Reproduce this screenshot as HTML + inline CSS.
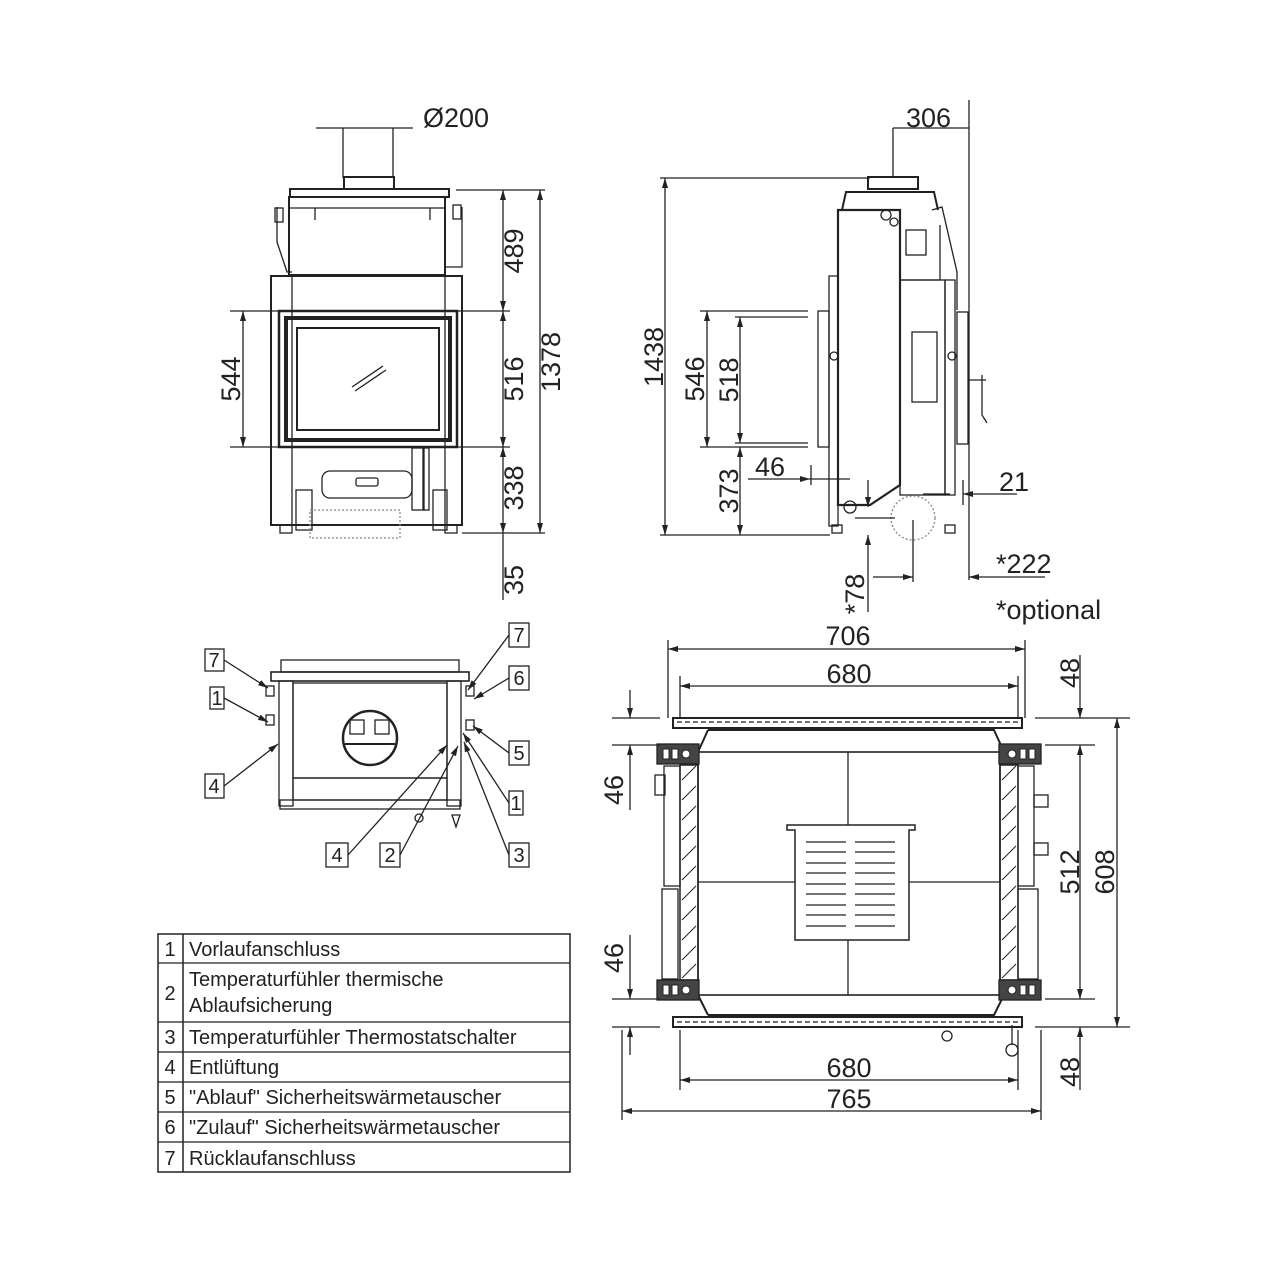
<!DOCTYPE html>
<html><head><meta charset="utf-8"><style>
html,body{margin:0;padding:0;background:#fff}
svg{display:block}
text{font-family:"Liberation Sans","DejaVu Sans",sans-serif;fill:#222}
.d{font-size:27px}
.t{font-size:20px}
</style></head><body>
<svg width="1280" height="1280" viewBox="0 0 1280 1280" xmlns="http://www.w3.org/2000/svg">
<defs>
<marker id="a" viewBox="0 0 10 6" refX="10" refY="3" markerWidth="10" markerHeight="6" orient="auto-start-reverse" markerUnits="userSpaceOnUse"><path d="M0,0L10,3L0,6z" fill="#222"/></marker>
</defs>
<g stroke="#222" stroke-width="1.3" fill="none">
<!-- ========== FRONT VIEW ========== -->
<line x1="316" y1="128" x2="413" y2="128"/>
<line x1="343" y1="128" x2="343" y2="178"/><line x1="393" y1="128" x2="393" y2="178"/>
<rect x="344" y="177" width="50" height="12" stroke-width="2"/>
<rect x="290" y="189" width="159" height="8" stroke-width="2"/>
<rect x="289" y="197" width="156" height="78" stroke-width="2"/>
<line x1="289" y1="208" x2="445" y2="208"/>
<path d="M315,208v12M430,208v12"/>
<path d="M277,207v35l10,30h5M462,207v60h-17" />
<rect x="275" y="208" width="8" height="14"/><rect x="453" y="205" width="8" height="14"/>
<rect x="271" y="276" width="191" height="249" stroke-width="2"/>
<line x1="292" y1="276" x2="292" y2="525"/><line x1="445" y1="276" x2="445" y2="525"/>
<rect x="279" y="311" width="178" height="136" stroke-width="2.5"/>
<rect x="286" y="318" width="164" height="122" stroke-width="4"/>
<rect x="297" y="328" width="142" height="102" stroke-width="2"/>
<line x1="352" y1="387" x2="383" y2="366"/><line x1="355" y1="391" x2="386" y2="370"/>
<rect x="322" y="471" width="90" height="27" rx="8"/>
<rect x="356" y="478" width="22" height="8" rx="2"/>
<rect x="412" y="448" width="12" height="62"/><rect x="423" y="448" width="6" height="62"/>
<rect x="296" y="490" width="16" height="40"/><rect x="433" y="490" width="14" height="40"/>
<rect x="310" y="510" width="90" height="28" stroke-dasharray="2,2" stroke="#888"/>
<rect x="280" y="525" width="12" height="8"/><rect x="445" y="525" width="12" height="8"/>
<!-- front dims -->
<line x1="456" y1="190" x2="545" y2="190"/><line x1="458" y1="311" x2="510" y2="311"/>
<line x1="458" y1="447" x2="510" y2="447"/><line x1="462" y1="533" x2="545" y2="533"/>
<line x1="503" y1="190" x2="503" y2="311" marker-start="url(#a)" marker-end="url(#a)"/>
<line x1="503" y1="311" x2="503" y2="447" marker-start="url(#a)" marker-end="url(#a)"/>
<line x1="503" y1="447" x2="503" y2="533" marker-start="url(#a)" marker-end="url(#a)"/>
<line x1="503" y1="533" x2="503" y2="600"/>
<line x1="540" y1="190" x2="540" y2="533" marker-start="url(#a)" marker-end="url(#a)"/>
<line x1="230" y1="311" x2="278" y2="311"/><line x1="230" y1="447" x2="278" y2="447"/>
<line x1="243" y1="311" x2="243" y2="447" marker-start="url(#a)" marker-end="url(#a)"/>

<!-- ========== SIDE VIEW ========== -->
<line x1="893" y1="128" x2="969" y2="128"/>
<line x1="893" y1="128" x2="893" y2="178"/><line x1="969" y1="100" x2="969" y2="580"/>
<rect x="868" y="177" width="50" height="12" stroke-width="2"/>
<path d="M842,210l4,-18h88l4,18" stroke-width="2"/>
<path d="M838,210h62v275l-30,20h-32z" stroke-width="2.2"/>
<path d="M900,210v70h40v-55" />
<path d="M932,210l10,-3l15,65v38" />
<path d="M829,276h9v250h-9z"/><path d="M945,280h10v215h-10z"/>
<rect x="900" y="280" width="45" height="215"/>
<rect x="912" y="332" width="25" height="70"/>
<rect x="906" y="230" width="20" height="25"/>
<rect x="818" y="311" width="11" height="136"/>
<rect x="957" y="312" width="11" height="132"/>
<path d="M968,380h18M982,375v40l5,8"/>
<circle cx="886" cy="215" r="5"/><circle cx="894" cy="222" r="4"/>
<circle cx="834" cy="356" r="4"/><circle cx="952" cy="356" r="4"/>
<circle cx="850" cy="507" r="6"/>
<circle cx="913" cy="518" r="22" stroke-dasharray="2,2" stroke="#888"/>
<rect x="832" y="525" width="10" height="8"/><rect x="945" y="525" width="10" height="8"/>
<!-- side dims -->
<line x1="660" y1="178" x2="870" y2="178"/><line x1="660" y1="535" x2="830" y2="535"/>
<line x1="665" y1="178" x2="665" y2="535" marker-start="url(#a)" marker-end="url(#a)"/>
<line x1="700" y1="311" x2="808" y2="311"/><line x1="700" y1="447" x2="808" y2="447"/>
<line x1="735" y1="317" x2="808" y2="317"/><line x1="735" y1="443" x2="808" y2="443"/>
<line x1="707" y1="311" x2="707" y2="447" marker-start="url(#a)" marker-end="url(#a)"/>
<line x1="740" y1="317" x2="740" y2="443" marker-start="url(#a)" marker-end="url(#a)"/>
<line x1="740" y1="447" x2="740" y2="535" marker-start="url(#a)" marker-end="url(#a)"/>
<line x1="748" y1="479" x2="810" y2="479" marker-end="url(#a)"/>
<line x1="810" y1="479" x2="850" y2="479"/>
<line x1="811" y1="465" x2="811" y2="485"/>
<line x1="923" y1="494" x2="950" y2="494"/>
<line x1="1000" y1="494" x2="963" y2="494" marker-end="url(#a)"/>
<line x1="963" y1="480" x2="963" y2="505"/>
<line x1="1000" y1="494" x2="1017" y2="494"/>
<line x1="868" y1="480" x2="868" y2="507" marker-end="url(#a)"/>
<line x1="868" y1="612" x2="868" y2="535" marker-end="url(#a)"/>
<line x1="855" y1="518" x2="895" y2="518"/>
<line x1="873" y1="577" x2="913" y2="577" marker-end="url(#a)"/>
<line x1="913" y1="520" x2="913" y2="582"/>
<line x1="1045" y1="577" x2="969" y2="577" marker-end="url(#a)"/>

<!-- ========== REAR VIEW ========== -->
<rect x="281" y="660" width="178" height="12"/>
<rect x="271" y="672" width="198" height="9" stroke-width="1.6"/>
<rect x="279" y="681" width="14" height="125"/><rect x="447" y="681" width="14" height="125"/>
<rect x="293" y="683" width="154" height="95"/>
<rect x="293" y="778" width="154" height="22"/>
<rect x="280" y="800" width="180" height="9"/>
<circle cx="370" cy="738" r="27" stroke-width="2.5"/>
<rect x="350" y="720" width="14" height="14"/><rect x="375" y="720" width="14" height="14"/>
<line x1="345" y1="744" x2="395" y2="744" stroke-width="2"/>
<rect x="266" y="686" width="8" height="10"/><rect x="266" y="715" width="8" height="10"/>
<rect x="466" y="686" width="8" height="10"/><rect x="466" y="720" width="8" height="10"/>
<circle cx="419" cy="818" r="4"/><path d="M452,815l4,12l4,-12z"/>
<!-- callouts -->
<rect x="205" y="649" width="19" height="22"/><text x="214" y="667" class="t" text-anchor="middle" stroke="none">7</text>
<rect x="210" y="687" width="14" height="22"/><text x="217" y="705" class="t" text-anchor="middle" stroke="none">1</text>
<rect x="205" y="774" width="19" height="24"/><text x="214" y="793" class="t" text-anchor="middle" stroke="none">4</text>
<rect x="509" y="623" width="20" height="24"/><text x="519" y="642" class="t" text-anchor="middle" stroke="none">7</text>
<rect x="509" y="666" width="20" height="24"/><text x="519" y="685" class="t" text-anchor="middle" stroke="none">6</text>
<rect x="509" y="741" width="20" height="24"/><text x="519" y="760" class="t" text-anchor="middle" stroke="none">5</text>
<rect x="509" y="791" width="14" height="24"/><text x="516" y="810" class="t" text-anchor="middle" stroke="none">1</text>
<rect x="509" y="843" width="20" height="24"/><text x="519" y="862" class="t" text-anchor="middle" stroke="none">3</text>
<rect x="326" y="843" width="22" height="24"/><text x="337" y="862" class="t" text-anchor="middle" stroke="none">4</text>
<rect x="380" y="843" width="20" height="24"/><text x="390" y="862" class="t" text-anchor="middle" stroke="none">2</text>
<line x1="224" y1="660" x2="268" y2="688" marker-end="url(#a)"/>
<line x1="224" y1="698" x2="268" y2="722" marker-end="url(#a)"/>
<line x1="224" y1="786" x2="278" y2="744" marker-end="url(#a)"/>
<line x1="509" y1="635" x2="468" y2="690" marker-end="url(#a)"/>
<line x1="509" y1="678" x2="474" y2="699" marker-end="url(#a)"/>
<line x1="509" y1="753" x2="473" y2="726" marker-end="url(#a)"/>
<line x1="509" y1="803" x2="463" y2="733" marker-end="url(#a)"/>
<line x1="509" y1="855" x2="464" y2="742" marker-end="url(#a)"/>
<line x1="348" y1="855" x2="447" y2="745" marker-end="url(#a)"/>
<line x1="400" y1="855" x2="458" y2="746" marker-end="url(#a)"/>

<!-- ========== TOP SECTION ========== -->
<rect x="673" y="718" width="349" height="10" stroke-width="2"/>
<rect x="673" y="1017" width="349" height="10" stroke-width="2"/>
<line x1="677" y1="722" x2="1018" y2="722" stroke-dasharray="5,3"/>
<line x1="677" y1="1022" x2="1018" y2="1022" stroke-dasharray="5,3"/>
<path d="M708,730h286l10,22M708,730l-10,22M708,1015h286l10,-20M708,1015l-10,-20" stroke-width="2"/>
<rect x="698" y="752" width="302" height="243" stroke-width="1.6"/>
<line x1="848" y1="752" x2="848" y2="995"/><line x1="698" y1="882" x2="1000" y2="882"/>
<rect x="680" y="765" width="18" height="215" stroke-width="1.5"/>
<rect x="1000" y="765" width="18" height="215" stroke-width="1.5"/>
<g stroke-width="1">
<path d="M682,780l14,-14M682,800l14,-14M682,820l14,-14M682,840l14,-14M682,860l14,-14M682,880l14,-14M682,900l14,-14M682,920l14,-14M682,940l14,-14M682,960l14,-14M682,978l14,-14"/>
<path d="M1002,780l14,-14M1002,800l14,-14M1002,820l14,-14M1002,840l14,-14M1002,860l14,-14M1002,880l14,-14M1002,900l14,-14M1002,920l14,-14M1002,940l14,-14M1002,960l14,-14M1002,978l14,-14"/>
</g>
<g fill="#444">
<rect x="657" y="744" width="42" height="20"/>
<rect x="999" y="744" width="42" height="20"/>
<rect x="657" y="980" width="42" height="20"/>
<rect x="999" y="980" width="42" height="20"/>
</g>
<g fill="#fff" stroke="#222" stroke-width="1">
<rect x="663" y="749" width="6" height="10"/><rect x="672" y="749" width="6" height="10"/><circle cx="686" cy="754" r="4"/>
<rect x="1029" y="749" width="6" height="10"/><rect x="1020" y="749" width="6" height="10"/><circle cx="1012" cy="754" r="4"/>
<rect x="663" y="985" width="6" height="10"/><rect x="672" y="985" width="6" height="10"/><circle cx="686" cy="990" r="4"/>
<rect x="1029" y="985" width="6" height="10"/><rect x="1020" y="985" width="6" height="10"/><circle cx="1012" cy="990" r="4"/>
</g>
<rect x="664" y="766" width="16" height="120"/><rect x="662" y="889" width="16" height="90"/>
<rect x="1018" y="766" width="16" height="120"/><rect x="1018" y="889" width="20" height="90"/>
<rect x="655" y="775" width="10" height="20"/>
<rect x="1034" y="795" width="14" height="12"/><rect x="1034" y="843" width="14" height="12"/>
<path d="M787,825h128v5h-6v110h-114v-110h-8z" fill="#fff" stroke-width="1.5"/>
<g stroke-width="1.3">
<path d="M806,842h40M855,842h40M806,852h40M855,852h40M806,863h40M855,863h40M806,873h40M855,873h40M806,884h40M855,884h40M806,894h40M855,894h40M806,905h40M855,905h40M806,915h40M855,915h40M806,926h40M855,926h40"/>
</g>
<circle cx="947" cy="1036" r="5"/><line x1="1012" y1="1025" x2="1012" y2="1045"/><circle cx="1012" cy="1050" r="6"/>
<!-- top dims -->
<line x1="668" y1="640" x2="668" y2="718"/><line x1="1025" y1="640" x2="1025" y2="718"/>
<line x1="680" y1="676" x2="680" y2="718"/><line x1="1018" y1="676" x2="1018" y2="718"/>
<line x1="668" y1="649" x2="1025" y2="649" marker-start="url(#a)" marker-end="url(#a)"/>
<line x1="680" y1="686" x2="1018" y2="686" marker-start="url(#a)" marker-end="url(#a)"/>
<line x1="680" y1="1030" x2="680" y2="1090"/><line x1="1018" y1="1030" x2="1018" y2="1090"/>
<line x1="622" y1="1030" x2="622" y2="1120"/><line x1="1041" y1="1030" x2="1041" y2="1120"/>
<line x1="680" y1="1080" x2="1018" y2="1080" marker-start="url(#a)" marker-end="url(#a)"/>
<line x1="622" y1="1111" x2="1041" y2="1111" marker-start="url(#a)" marker-end="url(#a)"/>
<line x1="1035" y1="718" x2="1130" y2="718"/><line x1="1045" y1="745" x2="1095" y2="745"/>
<line x1="1045" y1="999" x2="1095" y2="999"/><line x1="1035" y1="1027" x2="1130" y2="1027"/>
<line x1="1080" y1="655" x2="1080" y2="718" marker-end="url(#a)"/>
<line x1="1080" y1="745" x2="1080" y2="999" marker-start="url(#a)" marker-end="url(#a)"/>
<line x1="1080" y1="1090" x2="1080" y2="1027" marker-end="url(#a)"/>
<line x1="1117" y1="718" x2="1117" y2="1027" marker-start="url(#a)" marker-end="url(#a)"/>
<line x1="612" y1="718" x2="660" y2="718"/><line x1="612" y1="745" x2="660" y2="745"/>
<line x1="612" y1="999" x2="660" y2="999"/><line x1="612" y1="1027" x2="660" y2="1027"/>
<line x1="630" y1="690" x2="630" y2="718" marker-end="url(#a)"/>
<line x1="630" y1="810" x2="630" y2="745" marker-end="url(#a)"/>
<line x1="630" y1="935" x2="630" y2="999" marker-end="url(#a)"/>
<line x1="630" y1="1055" x2="630" y2="1027" marker-end="url(#a)"/>

<!-- ========== TABLE ========== -->
<rect x="158" y="934" width="412" height="238" stroke-width="1.5"/>
<line x1="183" y1="934" x2="183" y2="1172" stroke-width="1.5"/>
<line x1="158" y1="963" x2="570" y2="963"/><line x1="158" y1="1022" x2="570" y2="1022"/>
<line x1="158" y1="1052" x2="570" y2="1052"/><line x1="158" y1="1082" x2="570" y2="1082"/>
<line x1="158" y1="1112" x2="570" y2="1112"/><line x1="158" y1="1142" x2="570" y2="1142"/>
</g>

<!-- dimension text -->
<g class="d">
<text x="423" y="127" class="d">Ø200</text>
<text x="906" y="127" class="d">306</text>
<text class="d" transform="translate(523,251) rotate(-90)" text-anchor="middle">489</text>
<text class="d" transform="translate(523,379) rotate(-90)" text-anchor="middle">516</text>
<text class="d" transform="translate(523,488) rotate(-90)" text-anchor="middle">338</text>
<text class="d" transform="translate(523,580) rotate(-90)" text-anchor="middle">35</text>
<text class="d" transform="translate(560,362) rotate(-90)" text-anchor="middle">1378</text>
<text class="d" transform="translate(240,379) rotate(-90)" text-anchor="middle">544</text>
<text class="d" transform="translate(663,357) rotate(-90)" text-anchor="middle">1438</text>
<text class="d" transform="translate(704,379) rotate(-90)" text-anchor="middle">546</text>
<text class="d" transform="translate(738,380) rotate(-90)" text-anchor="middle">518</text>
<text class="d" transform="translate(738,491) rotate(-90)" text-anchor="middle">373</text>
<text class="d" transform="translate(864,594) rotate(-90)" text-anchor="middle">*78</text>
<text x="755" y="476" class="d">46</text>
<text x="999" y="491" class="d">21</text>
<text x="996" y="573" class="d">*222</text>
<text x="996" y="619" class="d">*optional</text>
<text x="848" y="645" class="d" text-anchor="middle">706</text>
<text x="849" y="683" class="d" text-anchor="middle">680</text>
<text x="849" y="1077" class="d" text-anchor="middle">680</text>
<text x="849" y="1108" class="d" text-anchor="middle">765</text>
<text class="d" transform="translate(1079,673) rotate(-90)" text-anchor="middle">48</text>
<text class="d" transform="translate(1079,1072) rotate(-90)" text-anchor="middle">48</text>
<text class="d" transform="translate(1079,872) rotate(-90)" text-anchor="middle">512</text>
<text class="d" transform="translate(1114,872) rotate(-90)" text-anchor="middle">608</text>
<text class="d" transform="translate(623,790) rotate(-90)" text-anchor="middle">46</text>
<text class="d" transform="translate(623,958) rotate(-90)" text-anchor="middle">46</text>
</g>
<!-- table text -->
<g class="t">
<text x="170" y="956" text-anchor="middle" class="t">1</text><text x="189" y="956" class="t">Vorlaufanschluss</text>
<text x="170" y="1000" text-anchor="middle" class="t">2</text><text x="189" y="986" class="t">Temperaturfühler thermische</text><text x="189" y="1012" class="t">Ablaufsicherung</text>
<text x="170" y="1044" text-anchor="middle" class="t">3</text><text x="189" y="1044" class="t">Temperaturfühler Thermostatschalter</text>
<text x="170" y="1074" text-anchor="middle" class="t">4</text><text x="189" y="1074" class="t">Entlüftung</text>
<text x="170" y="1104" text-anchor="middle" class="t">5</text><text x="189" y="1104" class="t">"Ablauf" Sicherheitswärmetauscher</text>
<text x="170" y="1134" text-anchor="middle" class="t">6</text><text x="189" y="1134" class="t">"Zulauf" Sicherheitswärmetauscher</text>
<text x="170" y="1165" text-anchor="middle" class="t">7</text><text x="189" y="1165" class="t">Rücklaufanschluss</text>
</g>
</svg>
</body></html>
